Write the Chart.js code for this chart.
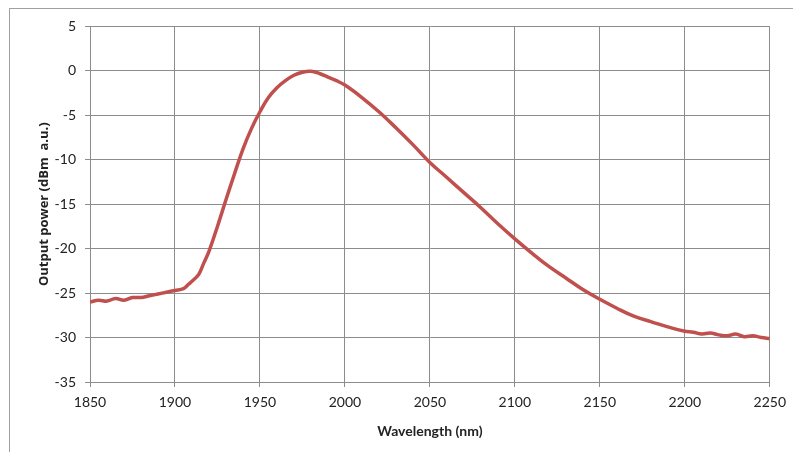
<!DOCTYPE html>
<html>
<head>
<meta charset="utf-8">
<script src="https://cdn.jsdelivr.net/npm/chart.js@4.4.0/dist/chart.umd.min.js"></script>
<style>
  html, body { margin: 0; padding: 0; background: #fff; }
  #frame {
    position: absolute; left: 9px; top: 8px; width: 784px; height: 444px;
    border-left: 1px solid #a0a0a0; border-top: 1px solid #a0a0a0;
  }
  #wrap { position: absolute; left: 0; top: 0; width: 783px; height: 443px; }
</style>
</head>
<body>
<div id="frame"><div id="wrap"><canvas id="graf_espectro"></canvas></div></div>
<script>
// comprimento de onda (nm) e potencia (dBm u.a.)
const wavelength = [
    1850, 1855, 1860, 1865, 1870, 1875, 1880, 1885, 1890, 1895,
    1900, 1905, 1908, 1911, 1914, 1917, 1920, 1925, 1930, 1935,
    1940, 1945, 1950, 1955, 1960, 1965, 1970, 1975, 1980, 1985,
    1990, 1995, 2000, 2010, 2020, 2030, 2040, 2050, 2060, 2070,
    2080, 2090, 2100, 2110, 2120, 2130, 2140, 2150, 2160, 2170,
    2180, 2190, 2200, 2205, 2210, 2215, 2220, 2225, 2230, 2235,
    2240, 2245, 2250
]
const power = [
    -26.0, -25.8, -25.9, -25.6, -25.8, -25.5, -25.5, -25.3, -25.1, -24.9,
    -24.7, -24.5, -24.0, -23.5, -22.9, -21.6, -20.3, -17.5, -14.5, -11.6,
    -8.8, -6.5, -4.6, -3.0, -1.9, -1.1, -0.5, -0.15, -0.05, -0.3,
    -0.7, -1.1, -1.6, -3.0, -4.6, -6.4, -8.3, -10.3, -12.0, -13.7,
    -15.4, -17.2, -18.9, -20.5, -22.0, -23.3, -24.6, -25.7, -26.7, -27.6,
    -28.2, -28.8, -29.3, -29.4, -29.6, -29.5, -29.7, -29.8, -29.6, -29.9,
    -29.8, -30.0, -30.1
]
const xTicks = [1850, 1900, 1950, 2000, 2050, 2100, 2150, 2200, 2250]
const yTicks = [5, 0, -5, -10, -15, -20, -25, -30, -35]

let array = []
for (let i = 0; i < wavelength.length; i++) {
    array.push({x: wavelength[i], y: power[i]})
}

const fonte = "Lato, 'Open Sans', sans-serif"
const ctx = document.getElementById('graf_espectro').getContext('2d');
const chart = new Chart(ctx, {
    type: 'line',
    data: {
        datasets: [{
                label: 'Output power',
                data: array,
                borderColor: '#c0504d',
                borderWidth: 3.5,
                pointRadius: 0,
                tension: 0.4,
                fill: false
            }]
    },
    options: {
        responsive: true,
        maintainAspectRatio: false,
        animation: false,
        layout: { padding: { top: 17, right: 21, left: 22, bottom: 8 } },
        plugins: { legend: { display: false }, tooltip: { enabled: false } },
        scales: {
            x: {
                type: 'linear',
                position: 'bottom',
                min: 1850,
                max: 2250,
                afterBuildTicks: (s) => { s.ticks = xTicks.map(v => ({value: v})) },
                afterFit: (s) => { s.height = 62 },
                grid: { color: '#8c8c8c', lineWidth: 1, tickLength: 5 },
                border: { color: '#8c8c8c' },
                ticks: {
                    color: '#222', font: { family: fonte, size: 14 }, padding: 7, maxRotation: 0,
                    callback: (v) => String(v)
                },
                title: {
                    display: true,
                    text: 'Wavelength (nm)',
                    color: '#222',
                    font: { family: fonte, size: 14, weight: 'bold' },
                    padding: { top: 0 }
                }
            },
            y: {
                min: -35,
                max: 5,
                afterBuildTicks: (s) => { s.ticks = yTicks.map(v => ({value: v})) },
                afterFit: (s) => { s.width = 58 },
                grid: { color: '#8c8c8c', lineWidth: 1, tickLength: 5 },
                border: { color: '#8c8c8c' },
                ticks: { color: '#222', font: { family: fonte, size: 14 }, padding: 9 },
                title: {
                    display: true,
                    text: 'Output power (dBm  a.u.)',
                    color: '#222',
                    font: { family: "'Open Sans', sans-serif", size: 13, weight: 'bold' },
                    padding: { bottom: 0 }
                }
            }
        }
    }})
</script>
</body>
</html>
